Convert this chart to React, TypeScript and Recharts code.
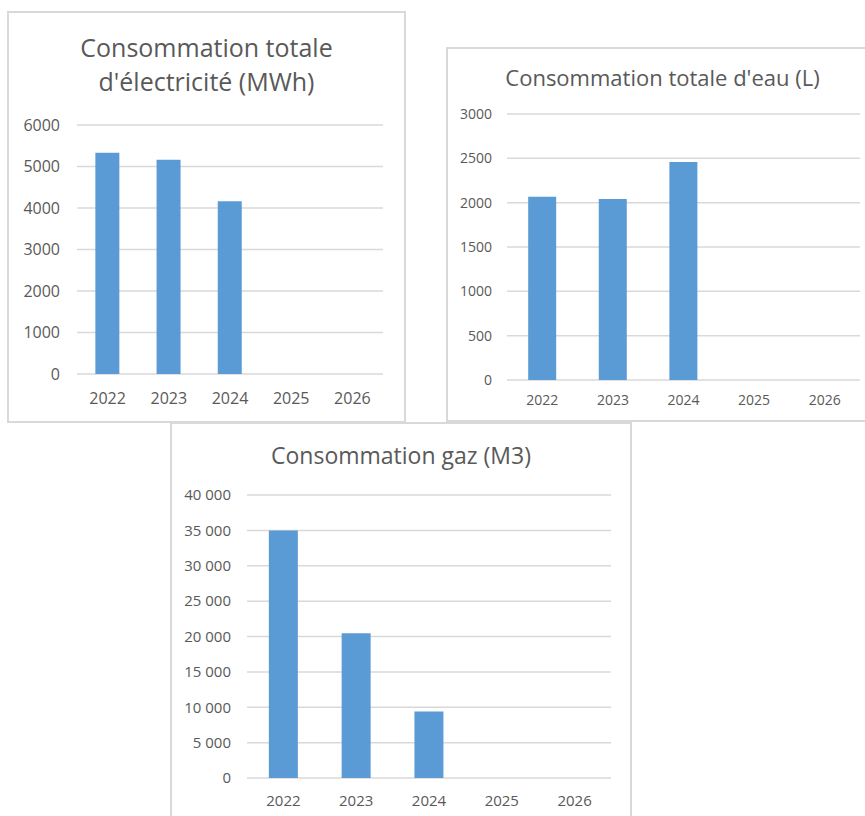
import React from 'react';
import { BarChart, Bar, XAxis, YAxis, CartesianGrid } from 'recharts';

const years = ['2022', '2023', '2024', '2025', '2026'];
const electricite = [5330, 5160, 4160, null, null];
const eau = [2068, 2040, 2460, null, null];
const gaz = [35000, 20450, 9400, null, null];
const elecTicks = [0, 1000, 2000, 3000, 4000, 5000, 6000];
const eauTicks = [0, 500, 1000, 1500, 2000, 2500, 3000];
const gazTicks = [0, 5000, 10000, 15000, 20000, 25000, 30000, 35000, 40000];

const FONT = '"Open Sans", "Noto Sans", sans-serif';
const TEXT = '#595959';
const GRID = '#d9d9d9';
const BAR = '#5b9bd5';

type PanelProps = {
  box: { left: number; top: number; width: number; height: number };
  plot: { left: number; top: number; right: number; bottom: number };
  title: string[];
  titleTop: number;
  titleSize: number;
  titleLineHeight: number;
  values: (number | null)[];
  ticks: number[];
  tickSize: number;
  yTickMargin: number;
  xTickMargin: number;
  fmt: (v: number) => string;
};

const Panel = (p: PanelProps) => {
  const data = years.map((y, i) => ({ year: y, v: p.values[i] }));
  const yW = p.plot.left - p.box.left;
  const xH = 40;
  const margin = {
    top: p.plot.top - p.box.top,
    left: 0,
    right: p.box.left + p.box.width - p.plot.right,
    bottom: p.box.top + p.box.height - p.plot.bottom - xH,
  };
  return (
    <>
      <div
        style={{
          position: 'absolute',
          left: p.box.left,
          top: p.box.top,
          width: p.box.width,
          height: p.box.height,
          boxSizing: 'border-box',
          border: '2px solid #d9d9d9',
          background: '#fff',
        }}
      />
      <div
        style={{
          position: 'absolute',
          left: p.box.left,
          top: p.titleTop,
          width: p.box.width,
          textAlign: 'center',
          fontFamily: FONT,
          fontSize: p.titleSize,
          lineHeight: p.titleLineHeight + 'px',
          color: TEXT,
          whiteSpace: 'nowrap',
        }}
      >
        {p.title.map((t, i) => (
          <div key={i}>{t}</div>
        ))}
      </div>
      <div style={{ position: 'absolute', left: p.box.left, top: p.box.top }}>
        <BarChart width={p.box.width} height={p.box.height} data={data} margin={margin} barCategoryGap="30%">
          <CartesianGrid vertical={false} stroke={GRID} strokeWidth={1.5} />
          <XAxis
            dataKey="year"
            height={xH}
            axisLine={false}
            tickLine={false}
            tickSize={0}
            tickMargin={p.xTickMargin}
            tick={{ fill: TEXT, fontSize: p.tickSize, fontFamily: FONT }}
            interval={0}
          />
          <YAxis
            width={yW}
            domain={[p.ticks[0], p.ticks[p.ticks.length - 1]]}
            ticks={p.ticks}
            axisLine={false}
            tickLine={false}
            tickSize={0}
            tickMargin={p.yTickMargin}
            tick={{ fill: TEXT, fontSize: p.tickSize, fontFamily: FONT }}
            tickFormatter={p.fmt}
            interval={0}
          />
          <Bar dataKey="v" fill={BAR} isAnimationActive={false} />
        </BarChart>
      </div>
    </>
  );
};

const plain = (v: number) => String(v);
const spaced = (v: number) => (v >= 1000 ? v.toLocaleString('en-US').replace(/,/g, ' ') : String(v));

export default function App() {
  return (
    <div
      style={{
        position: 'absolute',
        left: 0,
        top: 0,
        width: 865,
        height: 816,
        overflow: 'hidden',
        background: '#fff',
      }}
    >
      <Panel
        box={{ left: 7, top: 11, width: 399, height: 412 }}
        plot={{ left: 77, top: 125, right: 383, bottom: 374 }}
        title={['Consommation totale', "d'électricité (MWh)"]}
        titleTop={30}
        titleSize={25}
        titleLineHeight={34}
        values={electricite}
        ticks={elecTicks}
        tickSize={16}
        yTickMargin={17}
        xTickMargin={19}
        fmt={plain}
      />
      <Panel
        box={{ left: 446, top: 47, width: 433, height: 375 }}
        plot={{ left: 507, top: 114, right: 860, bottom: 380 }}
        title={["Consommation totale d'eau (L)"]}
        titleTop={62}
        titleSize={22}
        titleLineHeight={30}
        values={eau}
        ticks={eauTicks}
        tickSize={14}
        yTickMargin={15}
        xTickMargin={15}
        fmt={plain}
      />
      <Panel
        box={{ left: 170, top: 422, width: 462, height: 400 }}
        plot={{ left: 247, top: 495, right: 611, bottom: 778 }}
        title={['Consommation gaz (M3)']}
        titleTop={440}
        titleSize={23}
        titleLineHeight={31}
        values={gaz}
        ticks={gazTicks}
        tickSize={15}
        yTickMargin={16}
        xTickMargin={17}
        fmt={spaced}
      />
    </div>
  );
}
